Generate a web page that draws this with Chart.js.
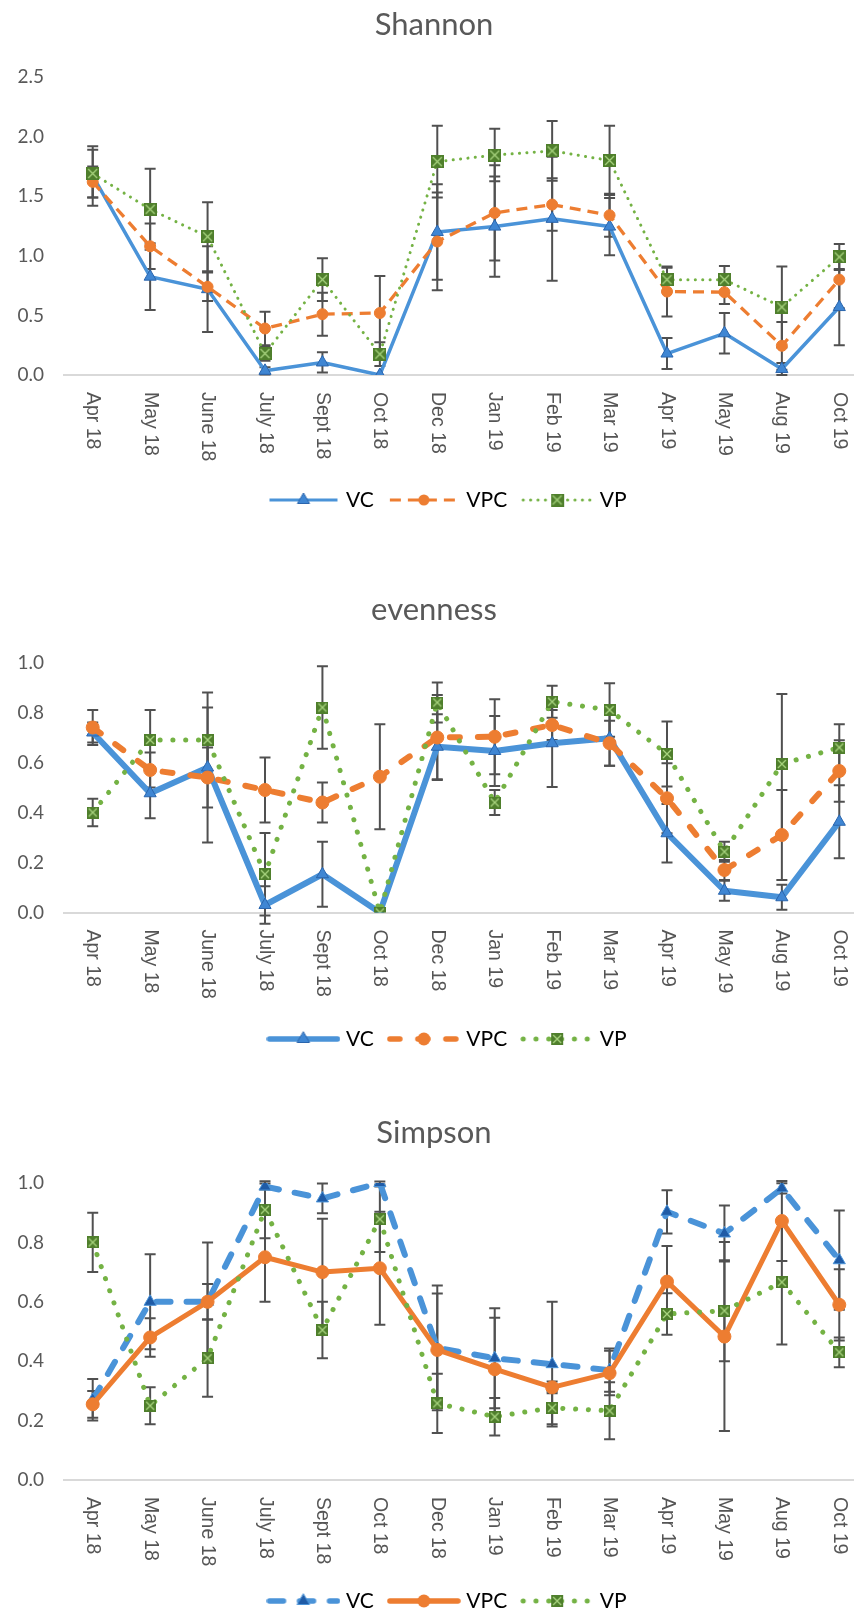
<!DOCTYPE html>
<html>
<head>
<meta charset="utf-8">
<script src="https://cdn.jsdelivr.net/npm/chart.js@4.4.1/dist/chart.umd.min.js"></script>
<style>
  html, body { margin: 0; padding: 0; background: #fff; }
  body { width: 854px; height: 1616px; overflow: hidden; position: relative; }
  .panel { position: absolute; left: 0; width: 900px; }
  .panel canvas { display: block; }
</style>
</head>
<body>
<div class="panel" style="top:0px"><canvas id="shannonChart" width="900" height="530"></canvas></div>
<div class="panel" style="top:545px"><canvas id="evennessChart" width="900" height="520"></canvas></div>
<div class="panel" style="top:1075px"><canvas id="simpsonChart" width="900" height="555"></canvas></div>
<script>
// Diversity indices by sampling month, three treatments (VC, VPC, VP), +/- error bars
const months = ['Apr 18', 'May 18', 'June 18', 'July 18', 'Sept 18', 'Oct 18', 'Dec 18',
  'Jan 19', 'Feb 19', 'Mar 19', 'Apr 19', 'May 19', 'Aug 19', 'Oct 19']
const seriesNames = ['VC', 'VPC', 'VP']

// Shannon
const shannonVC = [1.67, 0.825, 0.72, 0.035, 0.105, 0.0, 1.20, 1.245, 1.31, 1.245, 0.18, 0.35, 0.05, 0.57]
const shannonVCErr = [0.25, 0.28, 0.36, 0.03, 0.085, 0, 0.40, 0.42, 0.52, 0.24, 0.13, 0.17, 0.05, 0.32]
const shannonVPC = [1.62, 1.08, 0.74, 0.39, 0.51, 0.52, 1.12, 1.36, 1.43, 1.34, 0.70, 0.695, 0.245, 0.80]
const shannonVPCErr = [0.13, 0.19, 0.12, 0.14, 0.18, 0.31, 0.41, 0.40, 0.22, 0.18, 0.21, 0.10, 0.20, 0.24]
const shannonVP = [1.69, 1.39, 1.16, 0.18, 0.80, 0.175, 1.79, 1.845, 1.88, 1.80, 0.80, 0.80, 0.57, 0.99]
const shannonVPErr = [0.20, 0.34, 0.29, 0.06, 0.18, 0.10, 0.30, 0.22, 0.25, 0.29, 0.10, 0.115, 0.34, 0.11]

// evenness
const evenVC = [0.72, 0.477, 0.58, 0.03, 0.153, 0.0, 0.663, 0.646, 0.677, 0.697, 0.317, 0.087, 0.061, 0.363]
const evenVCErr = [0.04, 0.10, 0.30, 0.075, 0.13, 0, 0.13, 0.14, 0.175, 0.11, 0.117, 0.04, 0.05, 0.146]
const evenVPC = [0.74, 0.57, 0.54, 0.49, 0.44, 0.543, 0.70, 0.703, 0.75, 0.677, 0.457, 0.17, 0.31, 0.566]
const evenVPCErr = [0.07, 0.07, 0.12, 0.13, 0.08, 0.21, 0.17, 0.15, 0.06, 0.09, 0.14, 0.04, 0.18, 0.123]
const evenVP = [0.40, 0.69, 0.69, 0.153, 0.82, 0.0, 0.84, 0.44, 0.843, 0.81, 0.634, 0.243, 0.594, 0.66]
const evenVPErr = [0.055, 0.12, 0.13, 0.165, 0.165, 0, 0.08, 0.05, 0.064, 0.107, 0.13, 0.04, 0.28, 0.093]

// Simpson
const simpVC = [0.27, 0.60, 0.60, 0.988, 0.948, 1.0, 0.445, 0.41, 0.39, 0.37, 0.903, 0.83, 0.982, 0.74]
const simpVCErr = [0.07, 0.16, 0.20, 0.01, 0.05, 0.005, 0.21, 0.168, 0.21, 0.073, 0.073, 0.094, 0.017, 0.167]
const simpVPC = [0.255, 0.48, 0.60, 0.75, 0.70, 0.713, 0.438, 0.373, 0.312, 0.36, 0.668, 0.483, 0.872, 0.59]
const simpVPCErr = [0.045, 0.065, 0.06, 0.15, 0.18, 0.19, 0.19, 0.173, 0.02, 0.075, 0.12, 0.318, 0.135, 0.12]
const simpVP = [0.80, 0.25, 0.41, 0.91, 0.505, 0.878, 0.258, 0.213, 0.243, 0.233, 0.559, 0.57, 0.666, 0.43]
const simpVPErr = [0.10, 0.062, 0.13, 0.096, 0.095, 0.11, 0.10, 0.063, 0.055, 0.096, 0.07, 0.17, 0.21, 0.05]

const BLUE = '#4a93d8'
const ORANGE = '#ed7d31'
const GREEN = '#74b244'
const GREY = '#595959'

Chart.defaults.font.family = 'Lato, "Open Sans", sans-serif'
Chart.defaults.color = GREY

// square marker with a cross, used for VP
function boxMarker(size) {
  const c = document.createElement('canvas')
  c.width = size
  c.height = size
  const g = c.getContext('2d')
  g.fillStyle = '#4f7f2c'
  g.fillRect(0, 0, size, size)
  g.strokeStyle = '#a8d47f'
  g.lineWidth = 1.3
  g.beginPath()
  g.moveTo(2, 2); g.lineTo(size - 2, size - 2)
  g.moveTo(size - 2, 2); g.lineTo(2, size - 2)
  g.stroke()
  return c
}

// legend sample: line in the series style with its marker in the middle
function legendIcon(st) {
  const c = document.createElement('canvas')
  c.width = 74
  c.height = 20
  const g = c.getContext('2d')
  g.strokeStyle = st.color
  g.lineWidth = st.legendWidth
  g.lineCap = st.cap
  g.setLineDash(st.dash)
  g.beginPath()
  g.moveTo(3, 10); g.lineTo(71, 10)
  g.stroke()
  g.setLineDash([])
  if (st.marker === 'triangle') {
    const r = st.r
    g.fillStyle = st.fill
    g.strokeStyle = st.edge
    g.lineWidth = 1
    g.beginPath()
    g.moveTo(37, 10 - r)
    g.lineTo(37 + r * 0.866, 10 + r / 2)
    g.lineTo(37 - r * 0.866, 10 + r / 2)
    g.closePath()
    g.fill(); g.stroke()
  } else if (st.marker === 'circle') {
    g.fillStyle = ORANGE
    g.beginPath()
    g.arc(37, 10, st.r, 0, Math.PI * 2)
    g.fill()
  } else {
    const img = boxMarker(st.size)
    g.drawImage(img, 37 - st.size / 2, 10 - st.size / 2)
  }
  return c
}

const errorBars = {
  id: 'errorBars',
  beforeDatasetsDraw(chart) {
    const { ctx, scales: { x, y } } = chart
    ctx.save()
    ctx.strokeStyle = '#505050'
    ctx.lineWidth = 2
    chart.data.datasets.forEach(ds => {
      ds.errors.forEach((e, i) => {
        if (!e) return
        const px = x.getPixelForValue(i)
        const top = y.getPixelForValue(ds.data[i] + e)
        const bot = y.getPixelForValue(ds.data[i] - e)
        ctx.beginPath()
        ctx.moveTo(px, top); ctx.lineTo(px, bot)
        ctx.moveTo(px - 5.5, top); ctx.lineTo(px + 5.5, top)
        ctx.moveTo(px - 5.5, bot); ctx.lineTo(px + 5.5, bot)
        ctx.stroke()
      })
    })
    ctx.restore()
  }
}

// month labels turned 90deg clockwise (read top to bottom)
const monthLabels = {
  id: 'monthLabels',
  afterDraw(chart) {
    const { ctx, scales: { x } } = chart
    ctx.save()
    ctx.font = '19.5px "Liberation Sans", Arial, sans-serif'
    ctx.fillStyle = '#555555'
    ctx.textAlign = 'left'
    ctx.textBaseline = 'middle'
    chart.data.labels.forEach((lab, i) => {
      ctx.save()
      ctx.translate(x.getPixelForValue(i), x.top + 17)
      ctx.rotate(Math.PI / 2)
      ctx.fillText(lab, 0, 0)
      ctx.restore()
    })
    ctx.restore()
  }
}

// the original legend sits centred on the full chart width, not the padded one
const legendShift = {
  id: 'legendShift',
  afterLayout(chart) {
    chart.legend.left += 15
    chart.legend.right += 15
  }
}

function makeChart(id, title, values, errors, styles, yMax, step, lay) {
  const datasets = values.map((vals, k) => {
    const st = styles[k]
    return {
      label: seriesNames[k],
      data: vals,
      errors: errors[k],
      borderColor: st.color,
      backgroundColor: st.color,
      borderWidth: st.width,
      borderDash: st.dash,
      borderCapStyle: st.cap,
      borderJoinStyle: 'round',
      tension: 0,
      order: 3 - k,
      pointStyle: st.marker === 'box' ? boxMarker(st.size) : st.marker,
      pointRadius: st.marker === 'box' ? st.size / 2 : st.r,
      pointBackgroundColor: st.fill || st.color,
      pointBorderColor: st.edge || st.color,
      pointBorderWidth: 1,
      legendIcon: legendIcon(st)
    }
  })

  return new Chart(document.getElementById(id), {
    type: 'line',
    data: { labels: months, datasets },
    options: {
      responsive: false,
      animation: false,
      layout: { padding: { top: 0, bottom: lay.pb, left: 0, right: 32 } },
      plugins: {
        title: {
          display: true,
          text: title,
          color: GREY,
          font: { size: 31, weight: 'normal' },
          padding: { top: lay.a, bottom: lay.b }
        },
        legend: {
          position: 'bottom',
          labels: {
            usePointStyle: true,
            pointStyleWidth: 64,
            padding: 18,
            color: GREY,
            font: { size: 21 },
            generateLabels: chart => chart.data.datasets.map((ds, i) => ({
              text: ds.label,
              pointStyle: ds.legendIcon,
              datasetIndex: i,
              hidden: false,
              lineWidth: 0,
              fillStyle: 'transparent',
              strokeStyle: 'transparent'
            }))
          }
        },
        tooltip: { enabled: false }
      },
      scales: {
        x: {
          offset: true,
          grid: { display: false, drawTicks: false },
          border: { display: true, color: '#d9d9d9', width: 2 },
          ticks: { display: false },
          afterFit: s => { s.height = lay.hx }
        },
        y: {
          min: 0,
          max: yMax,
          grid: { display: false, drawTicks: false },
          border: { display: false },
          ticks: {
            stepSize: step,
            padding: 20,
            color: GREY,
            font: { size: 19 },
            callback: v => v.toFixed(1)
          },
          afterFit: s => { s.width = 64 }
        }
      }
    },
    plugins: [errorBars, monthLabels, legendShift]
  })
}

const boxStyle = (width, size) => ({ color: GREEN, width, legendWidth: width, dash: [0.1, width > 3.5 ? 12.7 : 7.3], cap: 'round', marker: 'box', size })

makeChart('shannonChart', 'Shannon',
  [shannonVC, shannonVPC, shannonVP],
  [shannonVCErr, shannonVPCErr, shannonVPErr],
  [
    { color: BLUE, width: 3.5, legendWidth: 3, dash: [], cap: 'butt', marker: 'triangle', r: 7, fill: '#3f86d3', edge: '#2a65ad' },
    { color: ORANGE, width: 3.3, legendWidth: 3, dash: [11, 7], cap: 'butt', marker: 'circle', r: 5.5 },
    boxStyle(3, 13)
  ],
  2.5, 0.5, { a: 6.4, b: 33.4, pb: 9.5, hx: 96.5 })

makeChart('evennessChart', 'evenness',
  [evenVC, evenVPC, evenVP],
  [evenVCErr, evenVPCErr, evenVPErr],
  [
    { color: BLUE, width: 6, legendWidth: 5.5, dash: [], cap: 'round', marker: 'triangle', r: 7, fill: '#3f86d3', edge: '#2a65ad' },
    { color: ORANGE, width: 6, legendWidth: 5.5, dash: [10, 18], cap: 'round', marker: 'circle', r: 6.5 },
    boxStyle(5, 12)
  ],
  1, 0.2, { a: 46.4, b: 33.9, pb: 5.5, hx: 98 })

makeChart('simpsonChart', 'Simpson',
  [simpVC, simpVPC, simpVP],
  [simpVCErr, simpVPCErr, simpVPErr],
  [
    { color: BLUE, width: 6, legendWidth: 5.5, dash: [14, 16], cap: 'round', marker: 'triangle', r: 7, fill: '#1f5ba6', edge: BLUE },
    { color: ORANGE, width: 5, legendWidth: 5.5, dash: [], cap: 'round', marker: 'circle', r: 6.5 },
    boxStyle(5, 12)
  ],
  1, 0.2, { a: 39.4, b: 31.4, pb: 8.5, hx: 92.5 })
</script>
</body>
</html>
